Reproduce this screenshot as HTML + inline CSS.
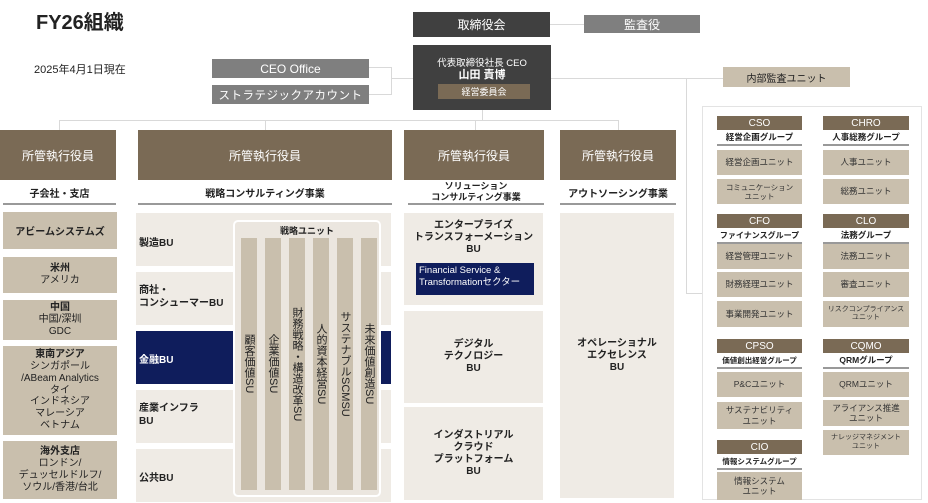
<!DOCTYPE html>
<html><head><meta charset="utf-8"><style>
*{margin:0;padding:0;box-sizing:border-box}
body{width:928px;height:503px;position:relative;background:#fff;font-family:"Liberation Sans","Noto Sans CJK JP",sans-serif;overflow:hidden;color:#222}
.a{position:absolute}
.c{display:flex;align-items:center;justify-content:center;text-align:center}
.ln{position:absolute;background:#d9d9d9}
.br{background:#7a6a55;color:#fff}
.bg{background:#c9bfad}
.lt{background:#efebe5}
.dk{background:#404040;color:#fff}
.gy{background:#7f7f7f;color:#fff}
.nv{background:#0f1d5c;color:#fff}
.sub{font-size:10px;font-weight:bold;border-bottom:2px solid #999}
.u{font-size:8.5px;color:#333;line-height:1.2}
.h{font-size:10px;color:#fff}
.g{font-size:8.5px;font-weight:bold;border-bottom:2px solid #999;line-height:13px}
.v{writing-mode:vertical-rl;font-size:11px;background:#c9bfad;display:flex;align-items:center;justify-content:center}
</style></head><body>
<div class="a" style="left:36px;top:6px;font-size:20px;font-weight:bold">FY26組織</div>
<div class="a" style="left:34px;top:61px;font-size:11px">2025年4月1日現在</div>

<div class="ln" style="left:369px;top:67px;width:23px;height:1px"></div>
<div class="ln" style="left:369px;top:94px;width:23px;height:1px"></div>
<div class="ln" style="left:391px;top:67px;width:1px;height:28px"></div>
<div class="ln" style="left:391px;top:78px;width:22px;height:1px"></div>
<div class="ln" style="left:550px;top:24px;width:34px;height:1px"></div>
<div class="ln" style="left:551px;top:78px;width:172px;height:1px"></div>
<div class="ln" style="left:686px;top:78px;width:1px;height:216px"></div>
<div class="ln" style="left:686px;top:293px;width:16px;height:1px"></div>
<div class="ln" style="left:482px;top:110px;width:1px;height:10px"></div>
<div class="ln" style="left:59px;top:120px;width:559px;height:1px"></div>
<div class="ln" style="left:59px;top:120px;width:1px;height:10px"></div>
<div class="ln" style="left:265px;top:120px;width:1px;height:10px"></div>
<div class="ln" style="left:475px;top:120px;width:1px;height:10px"></div>
<div class="ln" style="left:618px;top:120px;width:1px;height:10px"></div>

<div class="a c gy" style="left:212px;top:59px;width:157px;height:19px;font-size:12px">CEO Office</div>
<div class="a c gy" style="left:212px;top:85px;width:157px;height:19px;font-size:11.5px;letter-spacing:0.5px">ストラテジックアカウント</div>
<div class="a c dk" style="left:413px;top:12px;width:137px;height:25px;font-size:12px">取締役会</div>
<div class="a c gy" style="left:584px;top:15px;width:116px;height:18px;font-size:12px">監査役</div>
<div class="a dk" style="left:413px;top:45px;width:138px;height:65px">
 <div class="a" style="left:0;top:10px;width:138px;text-align:center;font-size:9.5px">代表取締役社長 CEO</div>
 <div class="a" style="left:0;top:21px;width:138px;text-align:center;font-size:11px;font-weight:bold">山田 責博</div>
 <div class="a c br" style="left:25px;top:39px;width:92px;height:15px;font-size:9px">経営委員会</div>
</div>
<div class="a c bg" style="left:723px;top:67px;width:127px;height:20px;font-size:10px">内部監査ユニット</div>

<div class="a c br" style="left:0;top:130px;width:116px;height:50px;font-size:12px">所管執行役員</div>
<div class="a c br" style="left:138px;top:130px;width:254px;height:50px;font-size:12px">所管執行役員</div>
<div class="a c br" style="left:404px;top:130px;width:140px;height:50px;font-size:12px">所管執行役員</div>
<div class="a c br" style="left:560px;top:130px;width:116px;height:50px;font-size:12px">所管執行役員</div>
<div class="a c sub" style="left:3px;top:182px;width:113px;height:23px">子会社・支店</div>
<div class="a c sub" style="left:138px;top:182px;width:254px;height:23px">戦略コンサルティング事業</div>
<div class="a c sub" style="left:408px;top:180px;width:136px;height:25px;font-size:9px;line-height:1.15">ソリューション<br>コンサルティング事業</div>
<div class="a c sub" style="left:560px;top:182px;width:116px;height:23px">アウトソーシング事業</div>

<div class="a c bg" style="left:3px;top:212px;width:114px;height:37px;font-size:10px;font-weight:bold">アビームシステムズ</div>
<div class="a c bg" style="left:3px;top:257px;width:114px;height:36px;font-size:10px;line-height:1.25"><div><b>米州</b><br>アメリカ</div></div>
<div class="a c bg" style="left:3px;top:300px;width:114px;height:40px;font-size:10px;line-height:1.2"><div><b>中国</b><br>中国/深圳<br>GDC</div></div>
<div class="a c bg" style="left:3px;top:346px;width:114px;height:89px;font-size:10px;line-height:1.18"><div><b>東南アジア</b><br>シンガポール<br>/ABeam Analytics<br>タイ<br>インドネシア<br>マレーシア<br>ベトナム</div></div>
<div class="a c bg" style="left:3px;top:441px;width:114px;height:58px;font-size:10px;line-height:1.2"><div><b>海外支店</b><br>ロンドン/<br>デュッセルドルフ/<br>ソウル/香港/台北</div></div>

<div class="a lt" style="left:136px;top:213px;width:255px;height:53px"></div>
<div class="a lt" style="left:136px;top:272px;width:255px;height:53px"></div>
<div class="a nv" style="left:136px;top:331px;width:255px;height:53px"></div>
<div class="a lt" style="left:136px;top:390px;width:255px;height:53px"></div>
<div class="a lt" style="left:136px;top:449px;width:255px;height:53px"></div>
<div class="a" style="left:139px;top:234px;font-size:10px;font-weight:bold">製造BU</div>
<div class="a" style="left:139px;top:285px;font-size:10px;font-weight:bold;line-height:1.25">商社・<br>コンシューマーBU</div>
<div class="a" style="left:139px;top:351px;font-size:10px;font-weight:bold;color:#fff">金融BU</div>
<div class="a" style="left:139px;top:403px;font-size:10px;font-weight:bold;line-height:1.25">産業インフラ<br>BU</div>
<div class="a" style="left:139px;top:469px;font-size:10px;font-weight:bold">公共BU</div>
<div class="a" style="left:233px;top:220px;width:148px;height:277px;background:#ebe6df;border:2px solid #fff;border-radius:5px"></div>
<div class="a" style="left:233px;top:224px;width:148px;text-align:center;font-size:9px;font-weight:bold">戦略ユニット</div>
<div class="a v" style="left:241px;top:238px;width:16px;height:252px">顧客価値SU</div>
<div class="a v" style="left:265px;top:238px;width:16px;height:252px">企業価値SU</div>
<div class="a v" style="left:289px;top:238px;width:16px;height:252px">財務戦略・構造改革SU</div>
<div class="a v" style="left:313px;top:238px;width:16px;height:252px">人的資本経営SU</div>
<div class="a v" style="left:337px;top:238px;width:16px;height:252px">サステナブルSCMSU</div>
<div class="a v" style="left:361px;top:238px;width:16px;height:252px">未来価値創造SU</div>

<div class="a lt" style="left:404px;top:213px;width:139px;height:92px"></div>
<div class="a" style="left:404px;top:220px;width:139px;text-align:center;font-size:10px;font-weight:bold;line-height:1.2">エンタープライズ<br>トランスフォーメーション<br>BU</div>
<div class="a nv" style="left:416px;top:263px;width:118px;height:32px;font-size:9.5px;line-height:1.3;padding:2px 3px">Financial Service &amp;<br>Transformationセクター</div>
<div class="a c lt" style="left:404px;top:311px;width:139px;height:92px;font-size:10px;font-weight:bold;line-height:1.2"><div>デジタル<br>テクノロジー<br>BU</div></div>
<div class="a c lt" style="left:404px;top:407px;width:139px;height:93px;font-size:10px;font-weight:bold;line-height:1.2"><div>インダストリアル<br>クラウド<br>プラットフォーム<br>BU</div></div>
<div class="a c lt" style="left:560px;top:213px;width:114px;height:285px;font-size:10px;font-weight:bold;line-height:1.2"><div>オペレーショナル<br>エクセレンス<br>BU</div></div>

<div class="a" style="left:702px;top:106px;width:220px;height:394px;border:1px solid #e3e3e3;background:#fff"></div>
<div class="a c br h" style="left:717px;top:116px;width:85px;height:14px">CSO</div>
<div class="a g" style="left:717px;top:131px;width:85px;text-align:center">経営企画グループ</div>
<div class="a c bg u" style="left:717px;top:150px;width:85px;height:25px">経営企画ユニット</div>
<div class="a c bg u" style="left:717px;top:179px;width:85px;height:25px;font-size:7.5px">コミュニケーション<br>ユニット</div>
<div class="a c br h" style="left:717px;top:214px;width:85px;height:14px">CFO</div>
<div class="a g" style="left:717px;top:229px;width:85px;text-align:center;font-size:8px">ファイナンスグループ</div>
<div class="a c bg u" style="left:717px;top:244px;width:85px;height:25px">経営管理ユニット</div>
<div class="a c bg u" style="left:717px;top:272px;width:85px;height:25px">財務経理ユニット</div>
<div class="a c bg u" style="left:717px;top:301px;width:85px;height:26px">事業開発ユニット</div>
<div class="a c br h" style="left:717px;top:339px;width:85px;height:14px">CPSO</div>
<div class="a g" style="left:717px;top:354px;width:85px;text-align:center;font-size:7.5px">価値創出経営グループ</div>
<div class="a c bg u" style="left:717px;top:372px;width:85px;height:25px">P&amp;Cユニット</div>
<div class="a c bg u" style="left:717px;top:402px;width:85px;height:27px">サステナビリティ<br>ユニット</div>
<div class="a c br h" style="left:717px;top:440px;width:85px;height:14px">CIO</div>
<div class="a g" style="left:717px;top:455px;width:85px;text-align:center;font-size:7.5px">情報システムグループ</div>
<div class="a c bg u" style="left:717px;top:472px;width:85px;height:28px">情報システム<br>ユニット</div>

<div class="a c br h" style="left:823px;top:116px;width:86px;height:14px">CHRO</div>
<div class="a g" style="left:823px;top:131px;width:86px;text-align:center">人事総務グループ</div>
<div class="a c bg u" style="left:823px;top:150px;width:86px;height:25px">人事ユニット</div>
<div class="a c bg u" style="left:823px;top:179px;width:86px;height:25px">総務ユニット</div>
<div class="a c br h" style="left:823px;top:214px;width:86px;height:14px">CLO</div>
<div class="a g" style="left:823px;top:229px;width:86px;text-align:center">法務グループ</div>
<div class="a c bg u" style="left:823px;top:244px;width:86px;height:25px">法務ユニット</div>
<div class="a c bg u" style="left:823px;top:272px;width:86px;height:25px">審査ユニット</div>
<div class="a c bg u" style="left:823px;top:301px;width:86px;height:26px;font-size:7px">リスクコンプライアンス<br>ユニット</div>
<div class="a c br h" style="left:823px;top:339px;width:86px;height:14px">CQMO</div>
<div class="a g" style="left:823px;top:354px;width:86px;text-align:center">QRMグループ</div>
<div class="a c bg u" style="left:823px;top:372px;width:86px;height:25px">QRMユニット</div>
<div class="a c bg u" style="left:823px;top:400px;width:86px;height:26px">アライアンス推進<br>ユニット</div>
<div class="a c bg u" style="left:823px;top:430px;width:86px;height:25px;font-size:7px">ナレッジマネジメント<br>ユニット</div>
</body></html>
